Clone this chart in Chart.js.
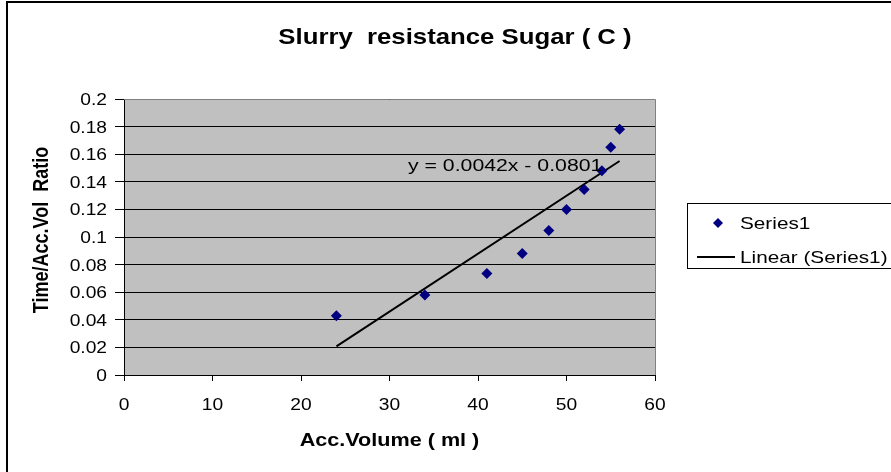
<!DOCTYPE html>
<html>
<head>
<meta charset="utf-8">
<script src="https://cdn.jsdelivr.net/npm/chart.js@4.4.0/dist/chart.umd.min.js"></script>
<style>
  html, body { margin: 0; padding: 0; background: #fff; }
  #wrap { position: relative; width: 891px; height: 472px; }
</style>
</head>
<body>
<div id="wrap"><canvas id="chart" width="891" height="472"></canvas></div>
<script>
// values
const accVolume = [24, 34, 41, 45, 48, 50, 52, 54, 55, 56];
const timeRatio = [0.043, 0.058, 0.0735, 0.088, 0.1047, 0.12, 0.1345, 0.148, 0.165, 0.178];
const trendSlope = 0.0042;
const trendIntercept = -0.0801;
const chartTitle = 'Slurry  resistance Sugar ( C )';
const xTitle = 'Acc.Volume ( ml )';
const yTitle = 'Time/Acc.Vol  Ratio';
const seriesName = 'Series1';
const trendName = 'Linear (Series1)';
const equationText = 'y = 0.0042x - 0.0801';

const FONT = '"Liberation Sans", Arial, sans-serif';
const STRETCH = 1.2; // the original picture is a bit wider than tall

const points = accVolume.map((x, i) => ({ x: x, y: timeRatio[i] }));
const xMin = Math.min(...accVolume);
const xMax = Math.max(...accVolume);
const trendPoints = [xMin, xMax].map(x => ({ x: x, y: trendSlope * x + trendIntercept }));

// text drawn a little wider, like the original
function wideText(ctx, text, x, y, font, align, sx) {
  ctx.save();
  ctx.font = font;
  ctx.textAlign = align;
  ctx.textBaseline = 'alphabetic';
  ctx.translate(x, y);
  ctx.scale(sx, 1);
  ctx.fillText(text, 0, 0);
  ctx.restore();
}

function fmt(v) {
  return String(Number(v.toFixed(4)));
}

const decorPlugin = {
  id: 'decor',
  beforeDraw(chart) {
    const { ctx, chartArea } = chart;
    ctx.save();
    ctx.fillStyle = '#C0C0C0';
    ctx.fillRect(chartArea.left, chartArea.top, chartArea.right - chartArea.left, chartArea.bottom - chartArea.top);
    ctx.restore();
  },
  afterDraw(chart) {
    const { ctx, chartArea } = chart;
    const xs = chart.scales.x;
    const ys = chart.scales.y;
    ctx.save();
    // plot area top/right edge
    ctx.strokeStyle = '#808080';
    ctx.lineWidth = 1;
    ctx.beginPath();
    ctx.moveTo(chartArea.left, chartArea.top + 0.5);
    ctx.lineTo(chartArea.right + 0.5, chartArea.top + 0.5);
    ctx.lineTo(chartArea.right + 0.5, chartArea.bottom);
    ctx.stroke();

    // outer chart border (only top and left visible)
    ctx.strokeStyle = '#000';
    ctx.lineWidth = 2;
    ctx.beginPath();
    ctx.moveTo(7, 480);
    ctx.lineTo(7, 2);
    ctx.lineTo(900, 2);
    ctx.stroke();

    ctx.fillStyle = '#000';

    // tick labels
    const tickFont = '16px ' + FONT;
    ys.ticks.forEach(t => {
      wideText(ctx, fmt(t.value), chartArea.left - 17, ys.getPixelForValue(t.value) + 6, tickFont, 'right', STRETCH);
    });
    xs.ticks.forEach(t => {
      wideText(ctx, fmt(t.value), xs.getPixelForValue(t.value), chartArea.bottom + 35, tickFont, 'center', STRETCH);
    });

    // titles
    wideText(ctx, chartTitle, 455, 44, 'bold 22px ' + FONT, 'center', 1.17);
    wideText(ctx, xTitle, (chartArea.left + chartArea.right) / 2, 446, 'bold 18px ' + FONT, 'center', STRETCH);
    ctx.save();
    ctx.translate(48, 230);
    ctx.scale(STRETCH, 1);
    ctx.rotate(-Math.PI / 2);
    ctx.font = 'bold 18px ' + FONT;
    ctx.textAlign = 'center';
    ctx.textBaseline = 'alphabetic';
    ctx.fillText(yTitle, 0, 0);
    ctx.restore();

    // trendline equation
    wideText(ctx, equationText, 408, 171, '17px ' + FONT, 'left', 1.25);

    // legend
    ctx.strokeStyle = '#000';
    ctx.lineWidth = 1;
    ctx.strokeRect(687.5, 203.5, 230, 65);
    ctx.fillStyle = '#000080';
    ctx.beginPath();
    ctx.moveTo(718, 218);
    ctx.lineTo(723, 223);
    ctx.lineTo(718, 228);
    ctx.lineTo(713, 223);
    ctx.closePath();
    ctx.fill();
    ctx.strokeStyle = '#000';
    ctx.lineWidth = 2;
    ctx.beginPath();
    ctx.moveTo(697, 257);
    ctx.lineTo(735, 257);
    ctx.stroke();
    ctx.fillStyle = '#000';
    wideText(ctx, seriesName, 740, 229, '17px ' + FONT, 'left', 1.22);
    wideText(ctx, trendName, 740, 263, '17px ' + FONT, 'left', 1.22);
    ctx.restore();
  }
};

new Chart(document.getElementById('chart'), {
  type: 'scatter',
  data: {
    datasets: [
      {
        label: seriesName,
        data: points,
        pointStyle: 'rectRot',
        pointRadius: 5.5,
        pointHoverRadius: 5.5,
        backgroundColor: '#000080',
        borderColor: '#000080',
        borderWidth: 0
      },
      {
        label: trendName,
        type: 'line',
        data: trendPoints,
        borderColor: '#000',
        borderWidth: 2,
        pointRadius: 0,
        fill: false
      }
    ]
  },
  options: {
    responsive: false,
    animation: false,
    events: [],
    layout: { padding: { left: 0, top: 99, right: 236, bottom: 0 } },
    plugins: { legend: { display: false }, tooltip: { enabled: false } },
    scales: {
      x: {
        type: 'linear',
        min: 0,
        max: 60,
        ticks: { stepSize: 10, display: false },
        grid: { drawOnChartArea: false, drawTicks: true, tickLength: 6, color: '#000' },
        border: { color: '#000', width: 1 },
        afterFit(scale) { scale.height = 97; }
      },
      y: {
        min: 0,
        max: 0.2,
        ticks: { stepSize: 0.02, display: false },
        grid: { color: '#000', lineWidth: 1, tickLength: 9 },
        border: { color: '#000', width: 1 },
        afterFit(scale) { scale.width = 124; }
      }
    }
  },
  plugins: [decorPlugin]
});
</script>
</body>
</html>
